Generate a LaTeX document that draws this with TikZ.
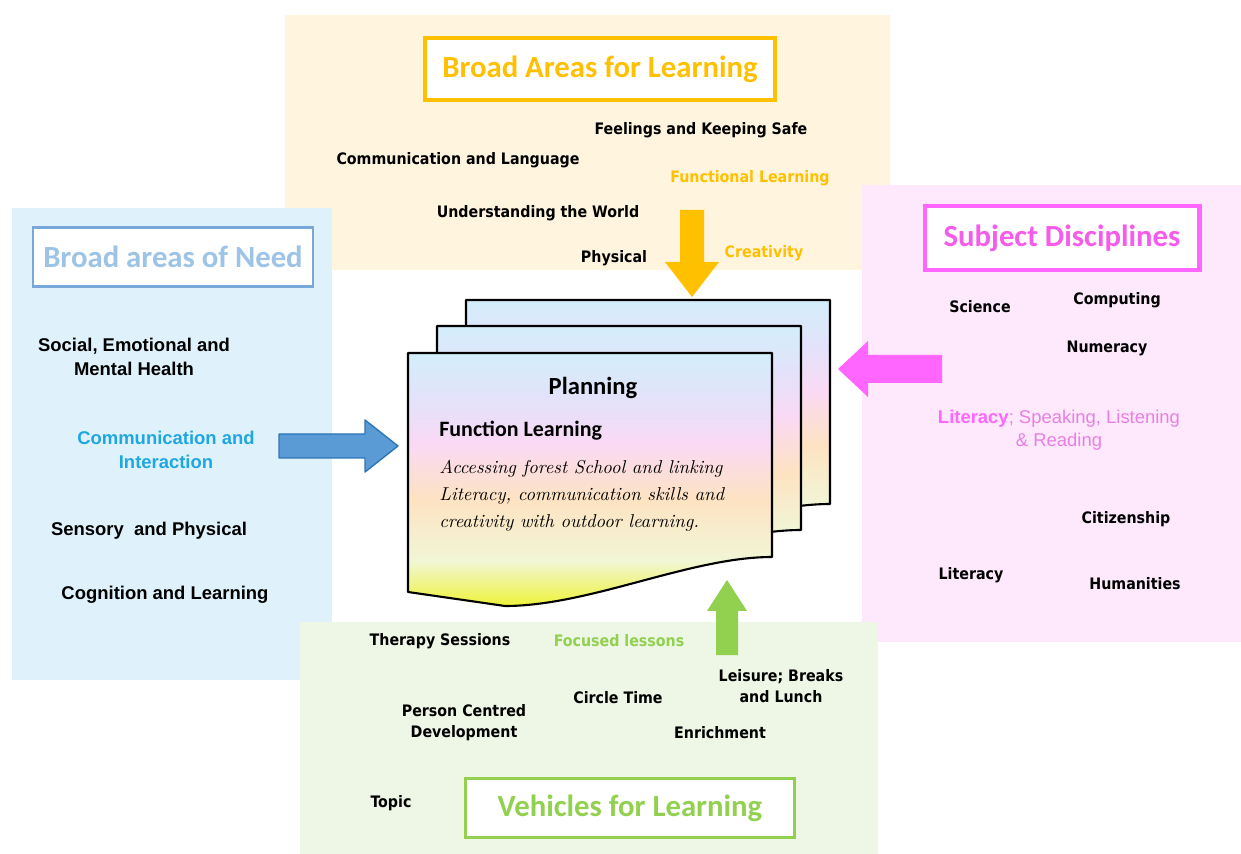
\documentclass[tikz,border=0pt]{standalone}
\usepackage{fontspec}
\usetikzlibrary{positioning}
\newfontfamily\calib{Carlito}
\newfontfamily\arialf{Liberation Sans}
\newfontfamily\comicf{DejaVu Sans Condensed}

\definecolor{learnorange}{HTML}{FFC000}
\definecolor{learnpanel}{HTML}{FFF5DE}
\definecolor{needpanel}{HTML}{DFF2FB}
\definecolor{needline}{HTML}{78A8DA}
\definecolor{needtext}{HTML}{9DC3E6}
\definecolor{needcyan}{HTML}{1FA7E1}
\definecolor{needfill}{HTML}{5B9BD5}
\definecolor{needdark}{HTML}{2E75B6}
\definecolor{subjpanel}{HTML}{FDE9FB}
\definecolor{subjpink}{HTML}{FF66FF}
\definecolor{subjtext}{HTML}{F55CEB}
\definecolor{subjlight}{HTML}{E97FE5}
\definecolor{vehpanel}{HTML}{EEF6E5}
\definecolor{vehgreen}{HTML}{92D050}
\definecolor{cardyellow}{HTML}{EEF33A}
\definecolor{cardpale}{HTML}{F1F6D6}
\definecolor{cardpeach}{HTML}{FDE3C2}
\definecolor{cardpink}{HTML}{FAD9F4}
\definecolor{cardlav}{HTML}{E3E2FA}
\definecolor{cardblue}{HTML}{D3EEFB}

\pgfdeclareverticalshading{cardshade}{100bp}{color(0bp)=(cardyellow); color(25bp)=(cardyellow); color(34bp)=(cardpale); color(46bp)=(cardpeach); color(57bp)=(cardpink); color(66bp)=(cardlav); color(75bp)=(cardblue); color(100bp)=(cardblue)}

\begin{document}
\begin{tikzpicture}[x=0.02cm,y=-0.02cm,
  comic/.style={font=\comicf\bfseries\fontsize{9}{12}\selectfont,align=center},
  arialb/.style={font=\arialf\bfseries\fontsize{10.5}{13.3}\selectfont,align=center},
  titlebox/.style={draw,fill=white,inner sep=0pt,
    font=\calib\bfseries\fontsize{17.5}{20}\selectfont}]
  \useasboundingbox (0,0) rectangle (1241,854);

  % panels
  \fill[learnpanel] (285,15) rectangle (890,270);
  \fill[needpanel] (12,208) rectangle (332,680);
  \fill[subjpanel] (862,185) rectangle (1241,642);
  \fill[vehpanel] (300,622) rectangle (878,854);

  % titles
  \node[titlebox,draw=learnorange,line width=2.3pt,text=learnorange,
    minimum width=7cm,minimum height=1.24cm] (learntitle) at (600,69)
    {Broad Areas for Learning};
  \node[titlebox,draw=needline,line width=1.4pt,text=needtext,
    minimum width=5.6cm,minimum height=1.18cm] (needtitle) at (173,257)
    {Broad areas of Need};
  \node[titlebox,draw=subjpink,line width=2.3pt,text=subjtext,
    minimum width=5.5cm,minimum height=1.28cm] (subjtitle) at (1062,238)
    {Subject Disciplines};
  \node[titlebox,draw=vehgreen,line width=1.7pt,text=vehgreen,
    minimum width=6.6cm,minimum height=1.18cm] (vehtitle) at (630,808)
    {Vehicles for Learning};

  % planning cards
  \foreach \dx/\dy in {58/-53,29/-27,0/0}{
    \begin{scope}[shift={(\dx,\dy)}]
      \shadedraw[shading=cardshade,line width=1.2pt,line join=round]
        (408,353) -- (772,353) -- (772,557)
        .. controls (690,557) and (590,606) .. (505,606)
        -- (408,592) -- cycle;
    \end{scope}
  }
  \node[font=\calib\bfseries\fontsize{14}{16}\selectfont] (planning) at (593,388) {Planning};
  \node[font=\calib\bfseries\fontsize{12.5}{15}\selectfont,anchor=west,inner sep=0pt]
    (function) at (439,431) {Function Learning};
  \node[font=\itshape\fontsize{10.6}{15.3}\selectfont,align=left,anchor=west,inner sep=0pt]
    (forest) at (439,496)
    {Accessing forest School and linking\\
     Literacy, communication skills and\\
     creativity with outdoor learning.};

  % broad areas for learning
  \node[comic] (feelings) at (701,130) {Feelings and Keeping Safe};
  \node[comic] (commlang) at (458,160) {Communication and Language};
  \node[comic,text=learnorange] (functional) at (750,178) {Functional Learning};
  \node[comic] (world) at (538,213) {Understanding the World};
  \node[comic] (physical) at (614,258) {Physical};
  \node[comic,text=learnorange] (creativity) at (764,253) {Creativity};

  % broad areas of need
  \node[arialb] (social) at (134,357) {Social, Emotional and\\Mental Health};
  \node[arialb,text=needcyan] (interaction) at (166,450) {Communication and\\Interaction};
  \node[arialb] (sensory) at (149,531) {Sensory\ \ and Physical};
  \node[arialb] (cognition) at (165,595) {Cognition and Learning};

  % subject disciplines
  \node[comic] (science) at (980,307) {Science};
  \node[comic] (computing) at (1117,300) {Computing};
  \node[comic] (numeracy) at (1107,348) {Numeracy};
  \node[font=\arialf\fontsize{10.5}{13.3}\selectfont,align=center,text=subjlight]
    (speaking) at (1059,430)
    {{\bfseries\color{subjpink}Literacy}; Speaking, Listening\\\& Reading};
  \node[comic] (citizenship) at (1126,519) {Citizenship};
  \node[comic] (literacy) at (971,575) {Literacy};
  \node[comic] (humanities) at (1135,584) {Humanities};

  % vehicles for learning
  \node[comic] (therapy) at (440,641) {Therapy Sessions};
  \node[comic,text=vehgreen] (focused) at (619,641) {Focused lessons};
  \node[comic] (leisure) at (781,686) {Leisure; Breaks\\and Lunch};
  \node[comic] (circle) at (618,698) {Circle Time};
  \node[comic] (person) at (464,723) {Person Centred\\Development};
  \node[comic] (enrichment) at (720,733) {Enrichment};
  \node[comic] (topic) at (391,803) {Topic};

  % arrows
  \coordinate (learntip) at (692,297);
  \coordinate (needtip) at (398,446);
  \coordinate (subjtip) at (838,369);
  \coordinate (vehtip) at (727,580);
  \fill[learnorange] (learntip) -- ++(-27,-35) -- ++(15,0) -- ++(0,-52)
    -- ++(24,0) -- ++(0,52) -- ++(15,0) -- cycle;
  \draw[fill=needfill,draw=needdark,line width=0.8pt,line join=round]
    (needtip) -- ++(-33,-26) -- ++(0,14) -- ++(-86,0) -- ++(0,24)
    -- ++(86,0) -- ++(0,14) -- cycle;
  \fill[subjpink] (subjtip) -- ++(30,-28) -- ++(0,14) -- ++(74,0)
    -- ++(0,28) -- ++(-74,0) -- ++(0,14) -- cycle;
  \fill[vehgreen] (vehtip) -- ++(20,31) -- ++(-9,0) -- ++(0,44)
    -- ++(-22,0) -- ++(0,-44) -- ++(-9,0) -- cycle;
\end{tikzpicture}
\end{document}
